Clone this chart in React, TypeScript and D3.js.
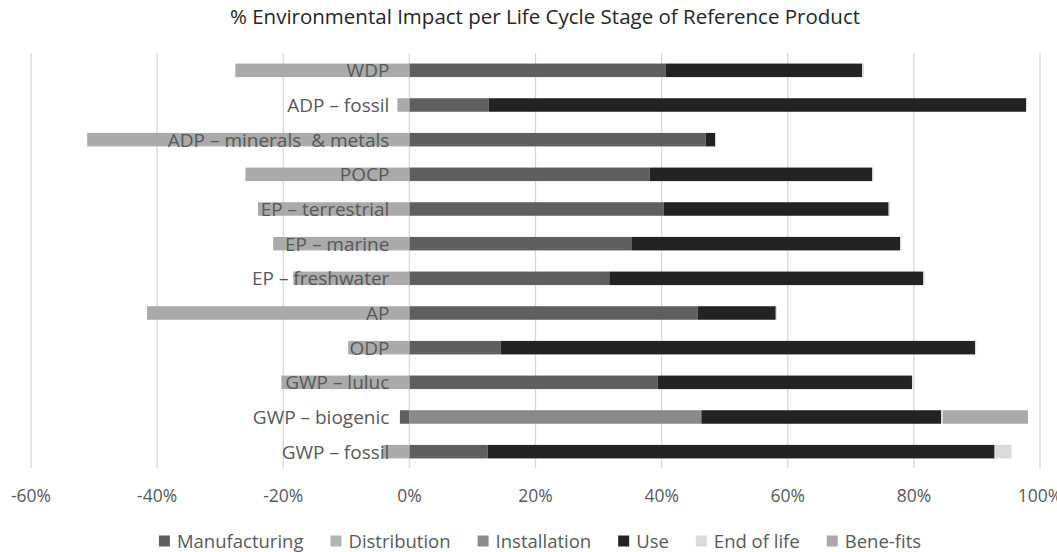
import React, {useEffect, useRef} from 'react'
import * as d3 from 'd3'

const categories = [
    'WDP',
    'ADP – fossil',
    'ADP – minerals  & metals',
    'POCP',
    'EP – terrestrial',
    'EP – marine',
    'EP – freshwater',
    'AP',
    'ODP',
    'GWP – luluc',
    'GWP – biogenic',
    'GWP – fossil',
]

const seriesNames = ['Manufacturing', 'Distribution', 'Installation', 'Use', 'End of life', 'Bene-fits']
const seriesColors = ['#5f5f5f', '#b4b4b4', '#8a8a8a', '#232323', '#dadada', '#aaaaaa']

// values in % per category (same order as categories)
const manufacturing = [40.6, 12.6, 47.0, 38.1, 40.3, 35.3, 31.7, 45.7, 14.5, 39.4, -1.5, 12.4]
const distribution = [0, 0, 0, 0, 0, 0, 0, 0, 0, 0, 0, 0]
const installation = [0, 0, 0, 0, 0, 0, 0, 0, 0, 0, 46.3, 0]
const use = [31.2, 85.2, 1.5, 35.3, 35.7, 42.5, 49.8, 12.4, 75.2, 40.3, 38.0, 80.4]
const endOfLife = [0.3, 0.1, 0.1, 0.2, 0.2, 0.2, 0.2, 0.2, 0.2, 0.1, 0.3, 2.7]
const benefits = [-27.6, -1.9, -51.1, -26.0, -24.0, -21.6, -18.4, -41.6, -9.7, -20.3, 13.5, -4.3]

const tickValues = [-60, -40, -20, 0, 20, 40, 60, 80, 100]

const W = 1057
const H = 552
const FONT = '"Open Sans", "Noto Sans", sans-serif'

export default function App() {
    const svgRef = useRef<SVGSVGElement>(null)

    useEffect(() => {
        const svg = d3.select(svgRef.current)
        svg.selectAll('*').remove()

        const rows = categories.map((c, i) => ({
            category: c,
            'Manufacturing': manufacturing[i],
            'Distribution': distribution[i],
            'Installation': installation[i],
            'Use': use[i],
            'End of life': endOfLife[i],
            'Bene-fits': benefits[i],
        }))

        const x = d3.scaleLinear().domain([-60, 100]).range([31, 1040])
        const y = d3.scaleBand<string>().domain(categories).range([53, 469]).paddingInner(0.61).paddingOuter(0.305)

        const color = d3.scaleOrdinal<string>().domain(seriesNames).range(seriesColors)

        const stacked = d3.stack<any>()
            .keys(seriesNames)
            .offset(d3.stackOffsetDiverging)(rows)

        // title
        svg.append('text')
            .attr('x', 545)
            .attr('y', 24)
            .attr('text-anchor', 'middle')
            .attr('font-family', FONT)
            .attr('font-size', 20.5)
            .attr('fill', '#262626')
            .text('% Environmental Impact per Life Cycle Stage of Reference Product')

        // gridlines
        svg.append('g')
            .selectAll('line')
            .data(tickValues)
            .join('line')
            .attr('x1', d => x(d))
            .attr('x2', d => x(d))
            .attr('y1', 53)
            .attr('y2', 468)
            .attr('stroke', '#d9d9d9')
            .attr('stroke-width', 1.3)

        // bars
        svg.append('g')
            .selectAll('g')
            .data(stacked)
            .join('g')
            .attr('fill', d => color(d.key))
            .selectAll('rect')
            .data(d => d)
            .join('rect')
            .attr('x', d => x(Math.min(d[0], d[1])))
            .attr('width', d => Math.abs(x(d[1]) - x(d[0])))
            .attr('y', d => y(d.data.category)!)
            .attr('height', y.bandwidth())

        // category labels (drawn over bars)
        svg.append('g')
            .selectAll('text')
            .data(categories)
            .join('text')
            .attr('x', x(0) - 20)
            .attr('y', d => y(d)! + y.bandwidth() / 2)
            .attr('dy', '0.36em')
            .attr('text-anchor', 'end')
            .attr('font-family', FONT)
            .attr('font-size', 19)
            .attr('fill', '#595959')
            .style('white-space', 'pre')
            .text(d => d)

        // x tick labels
        svg.append('g')
            .selectAll('text')
            .data(tickValues)
            .join('text')
            .attr('x', d => x(d))
            .attr('y', 496)
            .attr('dy', '0.36em')
            .attr('text-anchor', 'middle')
            .attr('font-family', FONT)
            .attr('font-size', 17.5)
            .attr('fill', '#595959')
            .text(d => `${d}%`)

        // legend, laid out by measured text widths and centred
        const legend = svg.append('g')
        const items = legend.selectAll('g')
            .data(seriesNames)
            .join('g')
        items.append('rect')
            .attr('width', 11)
            .attr('height', 11)
            .attr('y', -5.5)
            .attr('fill', d => color(d))
        items.append('text')
            .attr('x', 18)
            .attr('dy', '0.36em')
            .attr('font-family', FONT)
            .attr('font-size', 18.5)
            .attr('fill', '#595959')
            .text(d => d)
        const gap = 27
        let cx = 0
        const offsets: number[] = []
        items.each(function () {
            const t = (this as SVGGElement).querySelector('text') as SVGTextElement
            offsets.push(cx)
            cx += 18 + t.getComputedTextLength() + gap
        })
        const total = cx - gap
        items.attr('transform', (d, i) => `translate(${offsets[i]},0)`)
        legend.attr('transform', `translate(${540 - total / 2},541)`)
    }, [])

    return (
        <svg
            ref={svgRef}
            width={W}
            height={H}
            style={{position: 'absolute', left: 0, top: 0, background: '#fff'}}
        />
    )
}
